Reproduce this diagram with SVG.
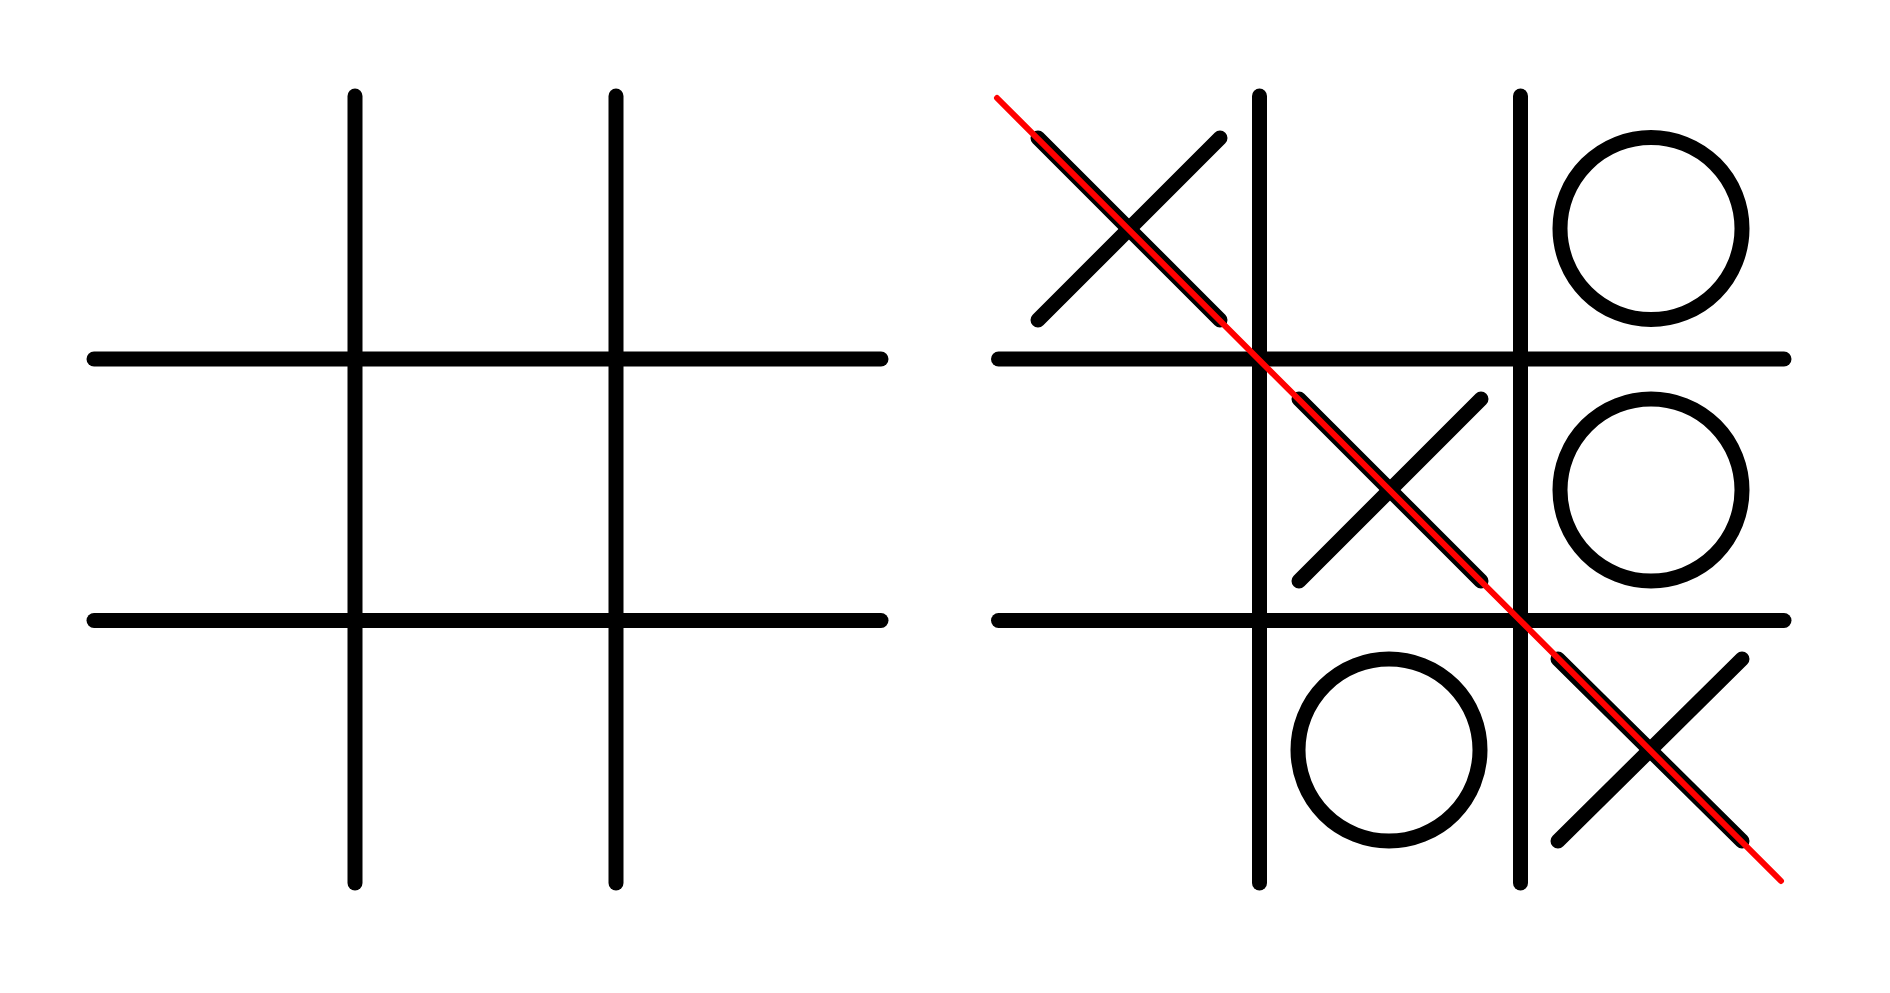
<svg xmlns="http://www.w3.org/2000/svg" width="1890" height="993" viewBox="0 0 1890 993">
<style>
.g{stroke:#000;stroke-width:15;stroke-linecap:round;fill:none}
.win{stroke:#ff0000;stroke-width:6;stroke-linecap:round;fill:none}
</style>
<rect width="1890" height="993" fill="#fff"/>
<g id="empty-board" class="g">
<line x1="355" y1="96" x2="355" y2="883"/>
<line x1="616" y1="96" x2="616" y2="883"/>
<line x1="94" y1="359" x2="881" y2="359"/>
<line x1="94" y1="620.5" x2="881" y2="620.5"/>
</g>
<g id="played-board" class="g">
<line x1="1259.5" y1="96" x2="1259.5" y2="883"/>
<line x1="1520.5" y1="96" x2="1520.5" y2="883"/>
<line x1="998.5" y1="359" x2="1784" y2="359"/>
<line x1="998.5" y1="620.5" x2="1784" y2="620.5"/>
</g>
<g id="x-top-left" class="g">
<line x1="1038" y1="138" x2="1220" y2="320"/>
<line x1="1038" y1="320" x2="1220" y2="138"/>
</g>
<g id="o-top-right" class="g">
<circle cx="1651" cy="228.5" r="91"/>
</g>
<g id="x-center" class="g">
<line x1="1299" y1="399" x2="1481" y2="581"/>
<line x1="1299" y1="581" x2="1481" y2="399"/>
</g>
<g id="o-middle-right" class="g">
<circle cx="1651" cy="490" r="91"/>
</g>
<g id="o-bottom-center" class="g">
<circle cx="1389" cy="750" r="91"/>
</g>
<g id="x-bottom-right" class="g">
<line x1="1558" y1="659" x2="1742" y2="841"/>
<line x1="1558" y1="841" x2="1742" y2="659"/>
</g>
<g id="connectors">
<line class="win" x1="997" y1="98" x2="1781" y2="881"/>
</g>
</svg>
